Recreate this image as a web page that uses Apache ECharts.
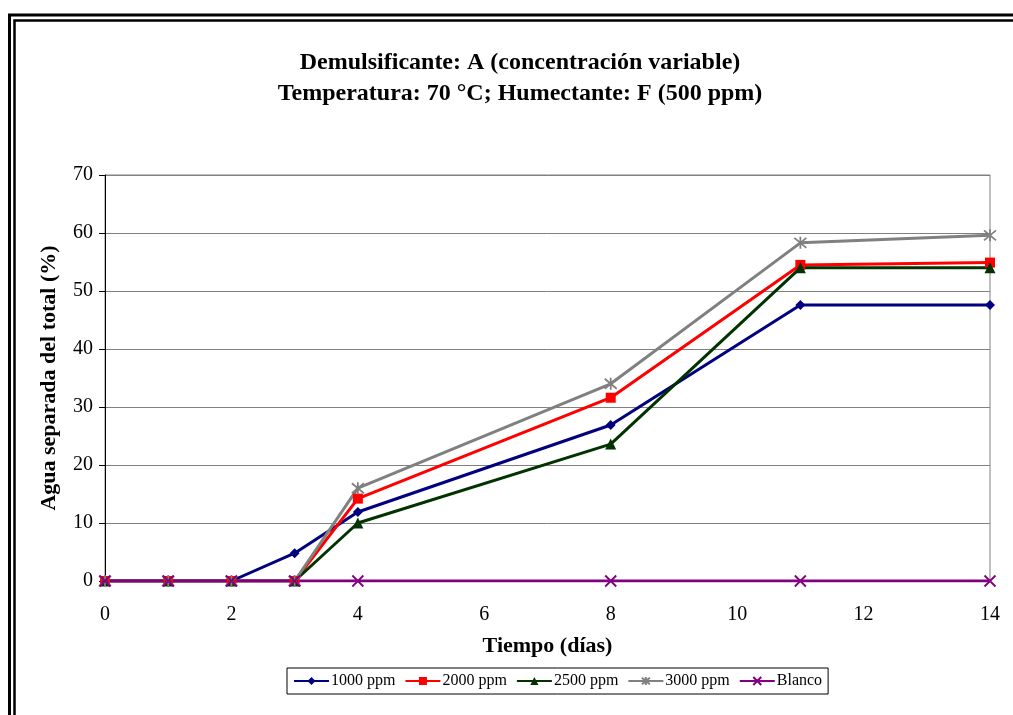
<!DOCTYPE html>
<html>
<head>
<meta charset="utf-8">
<script src="https://cdn.jsdelivr.net/npm/echarts@6/dist/echarts.min.js"></script>
<style>
html,body{margin:0;padding:0;background:#fff;}
#chart{width:1013px;height:715px;}
</style>
</head>
<body>
<div id="chart"></div>
<script>
const days = [0, 1, 2, 3, 4, 8, 11, 14];
const ppm1000 = [0, 0, 0, 4.8, 11.9, 26.9, 47.6, 47.6];
const ppm2000 = [0, 0, 0, 0, 14.2, 31.6, 54.5, 54.9];
const ppm2500 = [0, 0, 0, 0, 10.0, 23.6, 54.0, 54.0];
const ppm3000 = [0, 0, 0, 0, 16.0, 34.0, 58.3, 59.6];
const blanco  = [0, 0, 0, 0, 0, 0, 0, 0];
const seriesNames = ['1000 ppm', '2000 ppm', '2500 ppm', '3000 ppm', 'Blanco'];
const titleLines = ['Demulsificante: A (concentración variable)', 'Temperatura: 70 °C; Humectante: F (500 ppm)'];
const xAxisName = 'Tiempo (días)';
const yAxisName = 'Agua separada del total (%)';

const font = '"Liberation Serif","Times New Roman",serif';
const pair = arr => days.map((d, i) => [d, arr[i]]);
const starPath = 'path://M0,0 L10,10 M10,0 L0,10 M5,-1 L5,11';
const xPath = 'path://M0,0 L10,10 M10,0 L0,10';

function mk(name, data, color, symbol, size, stroke) {
  return {
    name, type: 'line', data: pair(data), symbol, symbolSize: size,
    lineStyle: { color, width: 3 },
    itemStyle: stroke ? { color: 'rgba(0,0,0,0)', borderColor: color, borderWidth: 1.8 } : { color },
    emphasis: { disabled: true }, animation: false
  };
}

const chart = echarts.init(document.getElementById('chart'), null, { renderer: 'canvas' });
chart.setOption({
  backgroundColor: '#fff',
  animation: false,
  graphic: [
    { type: 'rect', shape: { x: 9.5, y: 15, width: 1100, height: 800 }, style: { fill: 'none', stroke: '#000', lineWidth: 3 } },
    { type: 'rect', shape: { x: 14.5, y: 20.5, width: 1100, height: 800 }, style: { fill: 'none', stroke: '#000', lineWidth: 2.5 } }
  ],
  title: {
    text: titleLines.join('\n'),
    left: 515, top: 42, textAlign: 'center',
    textStyle: { fontFamily: font, fontWeight: 'bold', fontSize: 24, lineHeight: 31, color: '#000' }
  },
  legend: {
    data: seriesNames,
    left: 287, top: 668,
    padding: [5, 6, 5, 6],
    borderColor: '#000', borderWidth: 1,
    itemGap: 9, itemWidth: 35, itemHeight: 10,
    textStyle: { fontFamily: font, fontSize: 16, color: '#000', padding: [0, 0, 0, -3] }
  },
  grid: { left: 105, right: 23, top: 175, bottom: 134, show: true, borderColor: '#808080', borderWidth: 1, containLabel: false },
  xAxis: {
    type: 'value', min: 0, max: 14, interval: 2,
    name: xAxisName, nameLocation: 'middle', nameGap: 54,
    nameTextStyle: { fontFamily: font, fontWeight: 'bold', fontSize: 22, color: '#000' },
    axisLine: { show: true, lineStyle: { color: '#000', width: 1 } },
    axisTick: { show: false },
    axisLabel: { fontFamily: font, fontSize: 20, color: '#000', margin: 24 },
    splitLine: { show: false }
  },
  yAxis: {
    type: 'value', min: 0, max: 70, interval: 10,
    name: yAxisName, nameLocation: 'middle', nameGap: 45,
    nameTextStyle: { fontFamily: font, fontWeight: 'bold', fontSize: 22, color: '#000' },
    axisLine: { show: true, lineStyle: { color: '#000', width: 1 } },
    axisTick: { show: true, length: 6, lineStyle: { color: '#000' } },
    axisLabel: { fontFamily: font, fontSize: 20, color: '#000', margin: 12 },
    splitLine: { show: true, lineStyle: { color: '#808080', width: 1 } }
  },
  series: [
    mk(seriesNames[0], ppm1000, '#000080', 'diamond', 10, false),
    mk(seriesNames[1], ppm2000, '#FF0000', 'rect', 10, false),
    mk(seriesNames[2], ppm2500, '#003300', 'triangle', 11, false),
    mk(seriesNames[3], ppm3000, '#808080', starPath, 12, true),
    mk(seriesNames[4], blanco, '#800080', xPath, 11, true)
  ]
});
</script>
</body>
</html>
